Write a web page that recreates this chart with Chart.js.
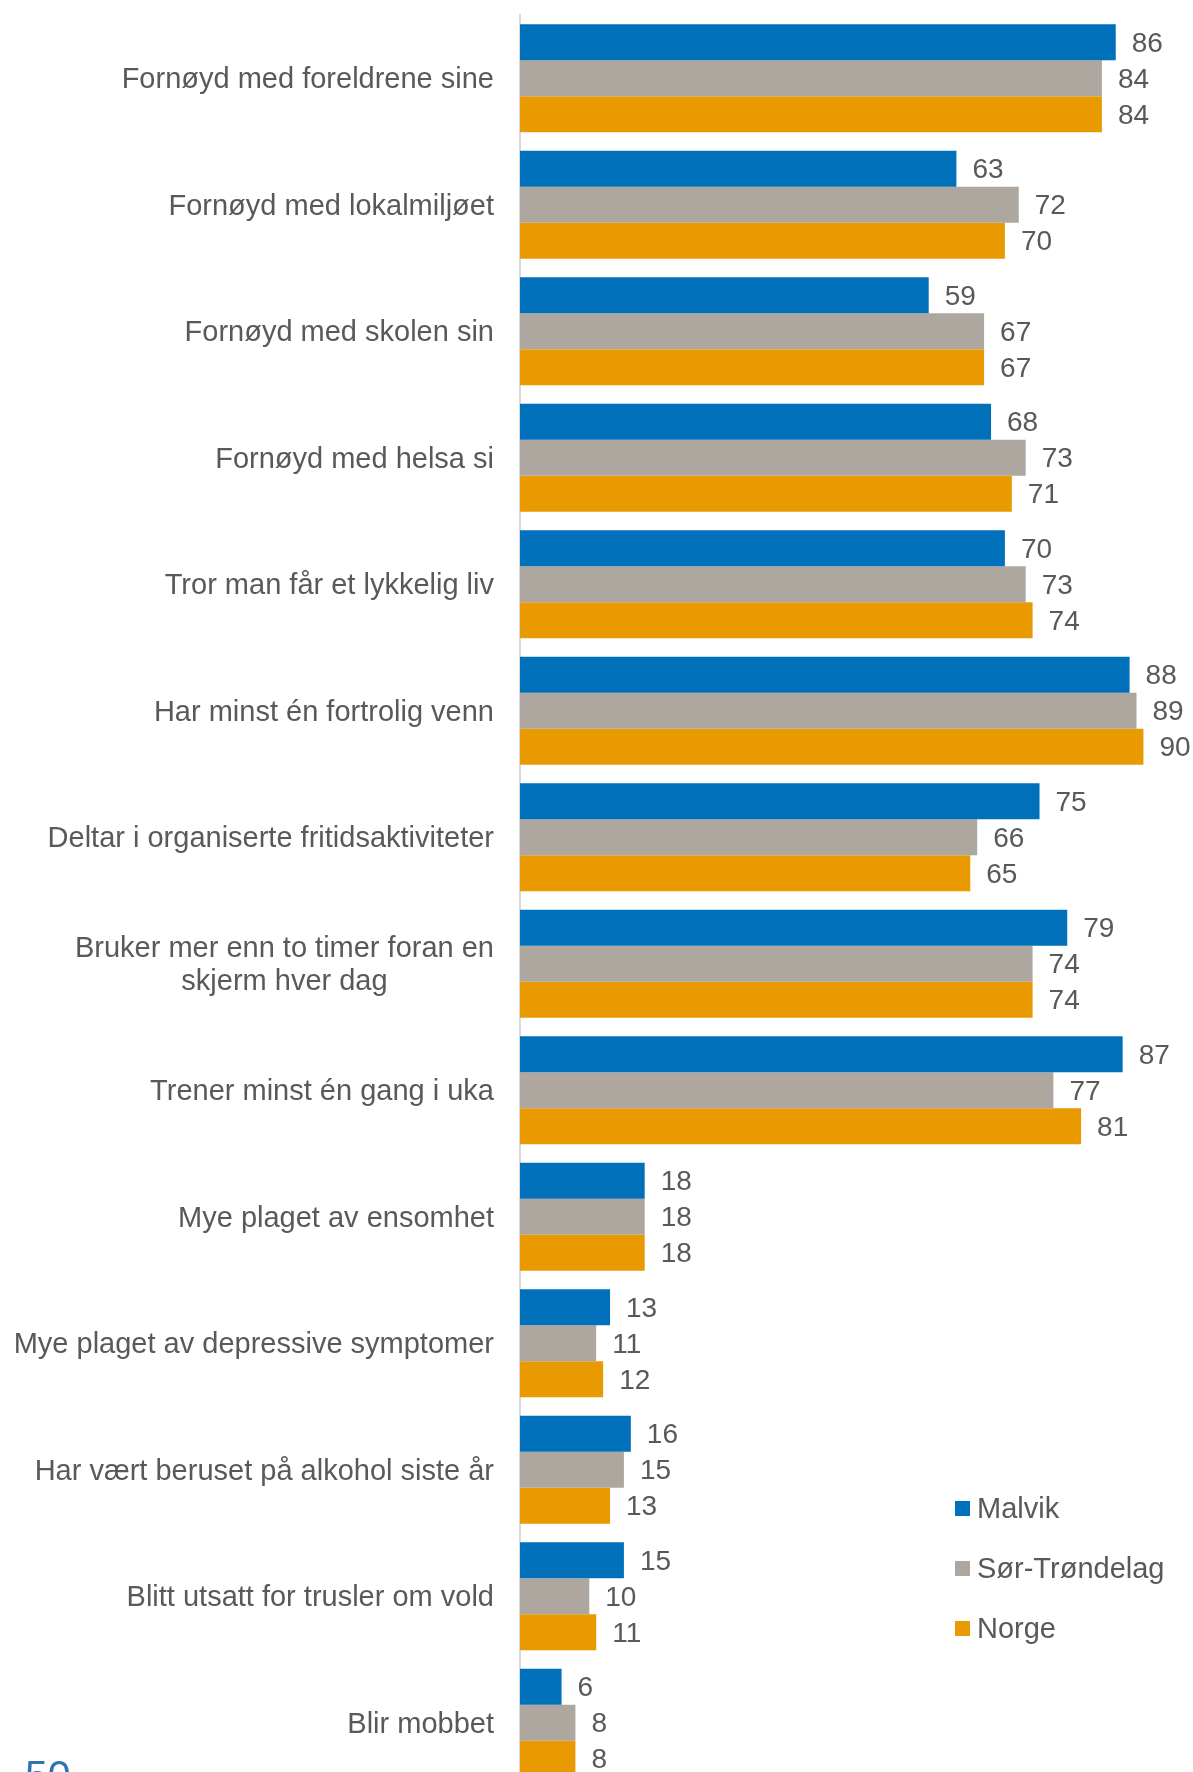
<!DOCTYPE html>
<html lang="no">
<head>
    <meta charset="utf-8"/>
    <title>Ungdata Malvik</title>
    <script src="https://cdn.jsdelivr.net/npm/chart.js"></script>
    <style>
        html, body {
            margin: 0;
            padding: 0;
            background: #fff;
            overflow: hidden;
        }
        .wrap {
            position: relative;
            width: 1193px;
            height: 1772px;
            overflow: hidden;
        }
        canvas {
            position: absolute;
            left: 0;
            top: 0;
        }
        .legend {
            position: absolute;
            left: 955px;
            top: 1487px;
            font-family: "Liberation Sans", Arial, sans-serif;
            font-size: 29px;
            color: #595959;
        }
        .legend div {
            height: 60px;
            line-height: 42px;
            white-space: nowrap;
        }
        .legend span {
            display: inline-block;
            width: 15px;
            height: 15px;
            margin-right: 7px;
            vertical-align: 2px;
        }
        .pagenum {
            position: absolute;
            left: 25px;
            top: 1755px;
            font-family: "Liberation Sans", Arial, sans-serif;
            font-size: 41px;
            line-height: 40px;
            color: #2f75b5;
        }
    </style>
</head>
<body>
<div class="wrap">
    <canvas id="myChart" width="1193" height="1800"></canvas>
    <div class="legend" id="legend"></div>
    <div class="pagenum">50</div>
</div>
<script>
    var labels = [
        'Fornøyd med foreldrene sine',
        'Fornøyd med lokalmiljøet',
        'Fornøyd med skolen sin',
        'Fornøyd med helsa si',
        'Tror man får et lykkelig liv',
        'Har minst én fortrolig venn',
        'Deltar i organiserte fritidsaktiviteter',
        ['Bruker mer enn to timer foran en', 'skjerm hver dag'],
        'Trener minst én gang i uka',
        'Mye plaget av ensomhet',
        'Mye plaget av depressive symptomer',
        'Har vært beruset på alkohol siste år',
        'Blitt utsatt for trusler om vold',
        'Blir mobbet'
    ];
    var seriesNames = ['Malvik', 'Sør-Trøndelag', 'Norge'];
    var seriesColors = ['#0070ba', '#aea79f', '#e89a00'];
    var malvik = [86, 63, 59, 68, 70, 88, 75, 79, 87, 18, 13, 16, 15, 6];
    var sorTrondelag = [84, 72, 67, 73, 73, 89, 66, 74, 77, 18, 11, 15, 10, 8];
    var norge = [84, 70, 67, 71, 74, 90, 65, 74, 81, 18, 12, 13, 11, 8];

    var fontFamily = '"Liberation Sans", Arial, sans-serif';

    // value labels to the right of each bar
    const valueLabels = {
        id: 'valueLabels',
        afterDatasetsDraw(chart) {
            const ctx = chart.ctx;
            ctx.save();
            ctx.font = '28px ' + fontFamily;
            ctx.fillStyle = '#595959';
            ctx.textAlign = 'left';
            ctx.textBaseline = 'middle';
            chart.data.datasets.forEach(function (ds, i) {
                chart.getDatasetMeta(i).data.forEach(function (bar, j) {
                    ctx.fillText(ds.data[j], bar.x + 16, bar.y + 2);
                });
            });
            ctx.restore();
        }
    };

    // category labels: right aligned block, wrapped lines centred inside it
    const categoryLabels = {
        id: 'categoryLabels',
        afterDraw(chart) {
            const ctx = chart.ctx;
            const scale = chart.scales.y;
            const right = scale.right - 26;
            const lineH = 33;
            ctx.save();
            ctx.font = '29px ' + fontFamily;
            ctx.fillStyle = '#595959';
            ctx.textBaseline = 'middle';
            chart.data.labels.forEach(function (lab, i) {
                const lines = Array.isArray(lab) ? lab : [lab];
                const yc = scale.getPixelForTick(i) + 2;
                const w = Math.max.apply(null, lines.map(function (l) { return ctx.measureText(l).width; }));
                ctx.textAlign = 'center';
                lines.forEach(function (l, k) {
                    const y = yc + (k - (lines.length - 1) / 2) * lineH;
                    ctx.fillText(l, right - w / 2, y);
                });
            });
            ctx.restore();
        }
    };

    var allData = [malvik, sorTrondelag, norge];
    var datasets = seriesNames.map(function (name, i) {
        return {
            label: name,
            data: allData[i],
            backgroundColor: seriesColors[i],
            barPercentage: 1,
            categoryPercentage: 0.854
        };
    });

    var ctx = document.getElementById('myChart');
    var mychart = new Chart(ctx, {
        type: 'bar',
        data: { labels: labels, datasets: datasets },
        plugins: [valueLabels, categoryLabels],
        options: {
            indexAxis: 'y',
            responsive: false,
            devicePixelRatio: 1,
            animation: false,
            layout: {
                padding: { top: 15, bottom: 14, left: 0, right: 8 }
            },
            plugins: {
                legend: { display: false },
                tooltip: { enabled: false }
            },
            scales: {
                x: {
                    display: false,
                    min: 0,
                    max: 96
                },
                y: {
                    grid: { display: false, drawTicks: false },
                    border: { display: true, color: '#d9d9d9', width: 2 },
                    ticks: { display: false },
                    afterFit: function (scale) {
                        scale.width = 520;
                        // keep the plot area fixed
                        scale.paddingTop = 0;
                        scale.paddingBottom = 0;
                    }
                }
            }
        }
    });

    // legend on the right side
    var legend = document.getElementById('legend');
    seriesNames.forEach(function (name, i) {
        var row = document.createElement('div');
        var box = document.createElement('span');
        box.style.background = seriesColors[i];
        row.appendChild(box);
        row.appendChild(document.createTextNode(name));
        legend.appendChild(row);
    });
</script>
</body>
</html>
